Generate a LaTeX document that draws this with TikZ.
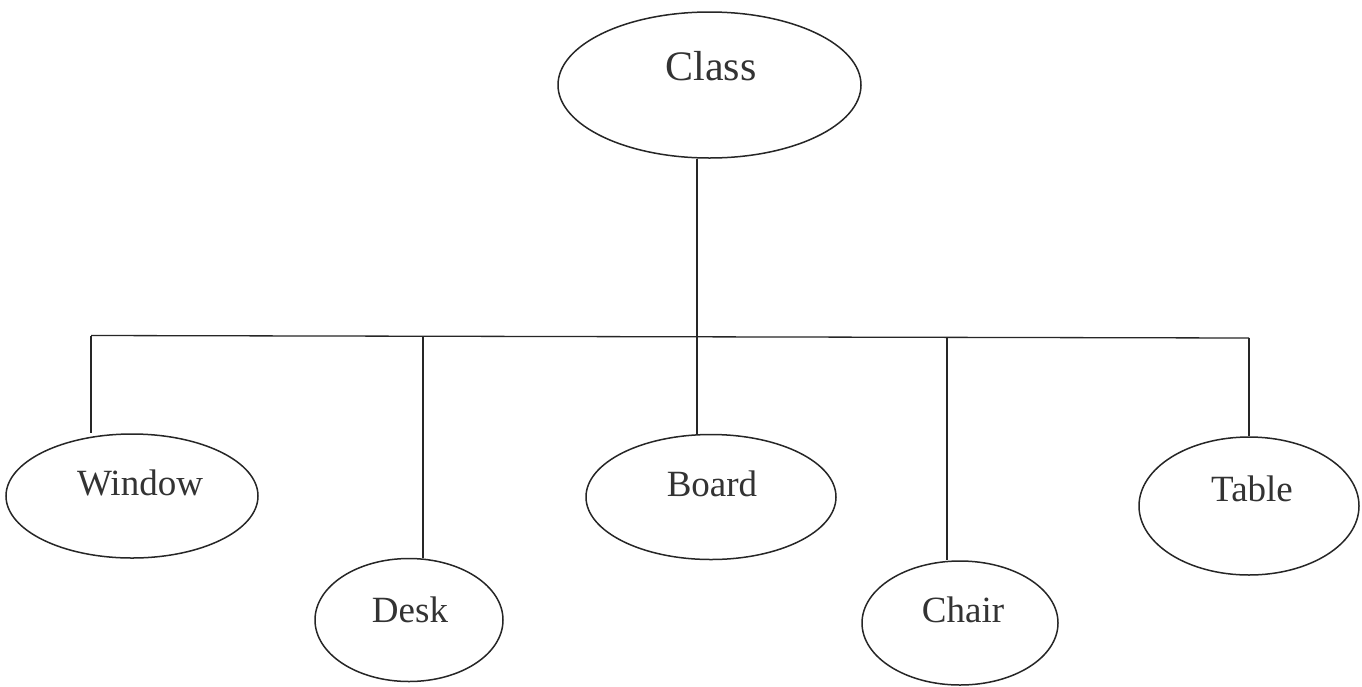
\documentclass[tikz,border=0pt]{standalone}
\usepackage{fontspec}
\setmainfont{Liberation Serif}
\usetikzlibrary{shapes.geometric}
\begin{document}
\begin{tikzpicture}[x=1pt,y=-1pt,
  oval/.style={draw=black!85, line width=1.5pt, ellipse, inner sep=0pt},
  lbl/.style={font=\fontsize{37}{40}\selectfont, text=black!80},
  wire/.style={draw=black!85, line width=1.3pt}]
\useasboundingbox (0,0) rectangle (1362,686);
\fill[white] (0,0) rectangle (1362,686);
% ellipses
\node[oval, minimum width=303pt, minimum height=146pt] (class) at (709.5,85) {};
\node[lbl, font=\fontsize{42}{46}\selectfont] (classt) at (711,66) {Class};
\node[oval, minimum width=252pt, minimum height=124pt] (window) at (132,496) {};
\node[lbl] (windowt) at (140,483) {Window};
\node[oval, minimum width=188pt, minimum height=123pt] (desk) at (409,620) {};
\node[lbl] (deskt) at (410,610) {Desk};
\node[oval, minimum width=250pt, minimum height=125pt] (board) at (711,497) {};
\node[lbl] (boardt) at (712,484) {Board};
\node[oval, minimum width=196pt, minimum height=124pt] (chair) at (960,623) {};
\node[lbl] (chairt) at (963,610) {Chair};
\node[oval, minimum width=220pt, minimum height=138pt] (table) at (1249,506) {};
\node[lbl] (tablet) at (1252,489) {Table};
% bus
\coordinate (bw) at (91,335.5);
\coordinate (bd) at (423,336);
\coordinate (bc) at (697,336.5);
\coordinate (bch) at (947,337);
\coordinate (bt) at (1249,338);
\draw[wire] (bc |- class.south) -- (bc);
\draw[wire] (bw) -- (bt);
\draw[wire] (bw) -- (bw |- window.north);
\draw[wire] (bd) -- (bd |- desk.north);
\draw[wire] (bc) -- (bc |- board.north);
\draw[wire] (bch) -- (bch |- chair.north);
\draw[wire] (bt) -- (table.north);
\end{tikzpicture}
\end{document}
